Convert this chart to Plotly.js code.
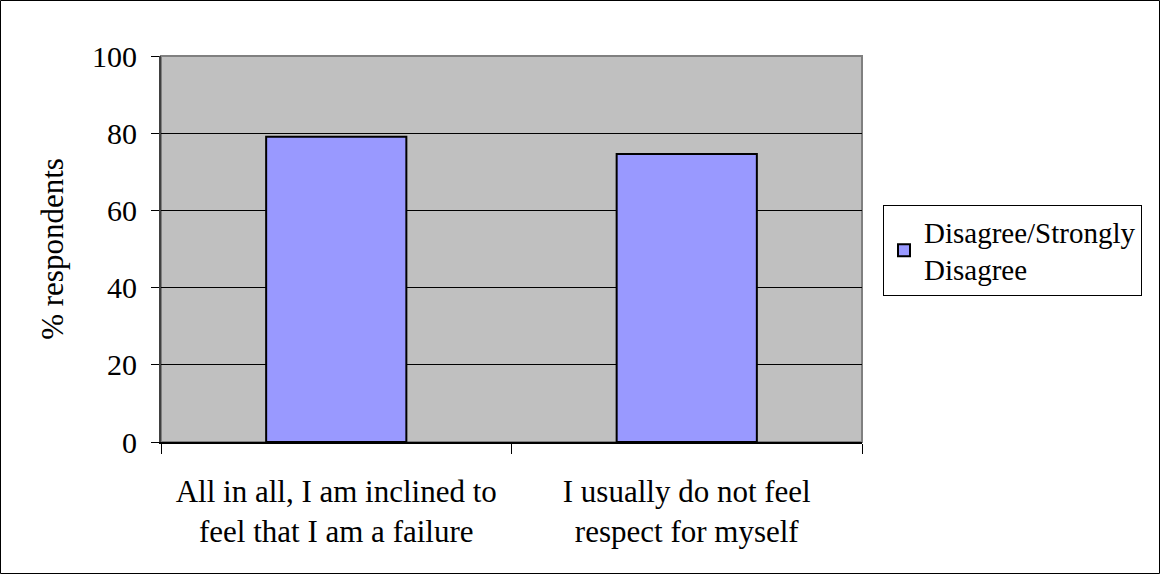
<!DOCTYPE html>
<html>
<head>
<meta charset="utf-8">
<script src="https://cdn.plot.ly/plotly-3.0.1.min.js"></script>
<style>html,body{margin:0;padding:0;background:#fff;}#chart{width:1160px;height:574px;}</style>
</head>
<body>
<div id="chart"></div>
<script>
const categories = ["All in all, I am inclined to<br>feel that I am a failure", "I usually do not feel<br>respect for myself"];
const seriesName = "Disagree/Strongly<br>Disagree";
const values = [79.1, 74.6];
const yTicks = [0, 20, 40, 60, 80, 100];

const L = 161, R = 298, T = 56, B = 132, W = 1160, H = 574;
const pw = W - L - R, ph = H - T - B;
const px = v => (v - L) / pw;
const py = v => (H - B - v) / ph;

const font = "Liberation Serif";

const data = [{
  type: "bar",
  x: categories,
  y: values,
  name: seriesName,
  marker: {color: "#9999ff", line: {color: "#000000", width: 2}},
  showlegend: true
}];

const layout = {
  width: W, height: H,
  margin: {l: L, r: R, t: T, b: B, pad: 0},
  paper_bgcolor: "#ffffff",
  plot_bgcolor: "#c0c0c0",
  font: {family: font, size: 30, color: "#000"},
  bargap: 0.6,
  showlegend: true,
  xaxis: {
    type: "category",
    tickson: "boundaries",
    ticks: "outside", ticklen: 10, tickcolor: "#000", tickwidth: 1,
    ticklabelstandoff: 21,
    showline: true, linecolor: "#000", linewidth: 1.5,
    showgrid: false,
    tickfont: {family: font, size: 31, color: "#000"},
    automargin: false
  },
  yaxis: {
    range: [0, 100],
    tickvals: yTicks,
    ticks: "outside", ticklen: 8, tickcolor: "#000", tickwidth: 1,
    ticklabelstandoff: 8,
    showline: true, linecolor: "#404040", linewidth: 2,
    showgrid: true, gridcolor: "#000", gridwidth: 1,
    zeroline: false,
    tickfont: {family: font, size: 30, color: "#000"},
    title: {text: "% respondents", font: {family: font, size: 31, color: "#000"}, standoff: 19},
    automargin: false
  },
  legend: {
    x: px(883), y: py(205), xanchor: "left", yanchor: "top",
    bgcolor: "#ffffff", bordercolor: "#000", borderwidth: 1,
    font: {family: font, size: 29, color: "#000"},
    itemwidth: 30, tracegroupgap: 0
  },
  shapes: [
    {type: "rect", xref: "paper", yref: "paper", x0: 0, x1: 1, y0: 0, y1: 1,
     line: {color: "#808080", width: 2}, layer: "below"},
    {type: "rect", xref: "paper", yref: "paper",
     x0: px(0.5), x1: px(1159.5), y0: py(573.5), y1: py(0.5),
     line: {color: "#000", width: 1}}
  ]
};

Plotly.newPlot("chart", data, layout, {displayModeBar: false, staticPlot: true});
</script>
</body>
</html>
